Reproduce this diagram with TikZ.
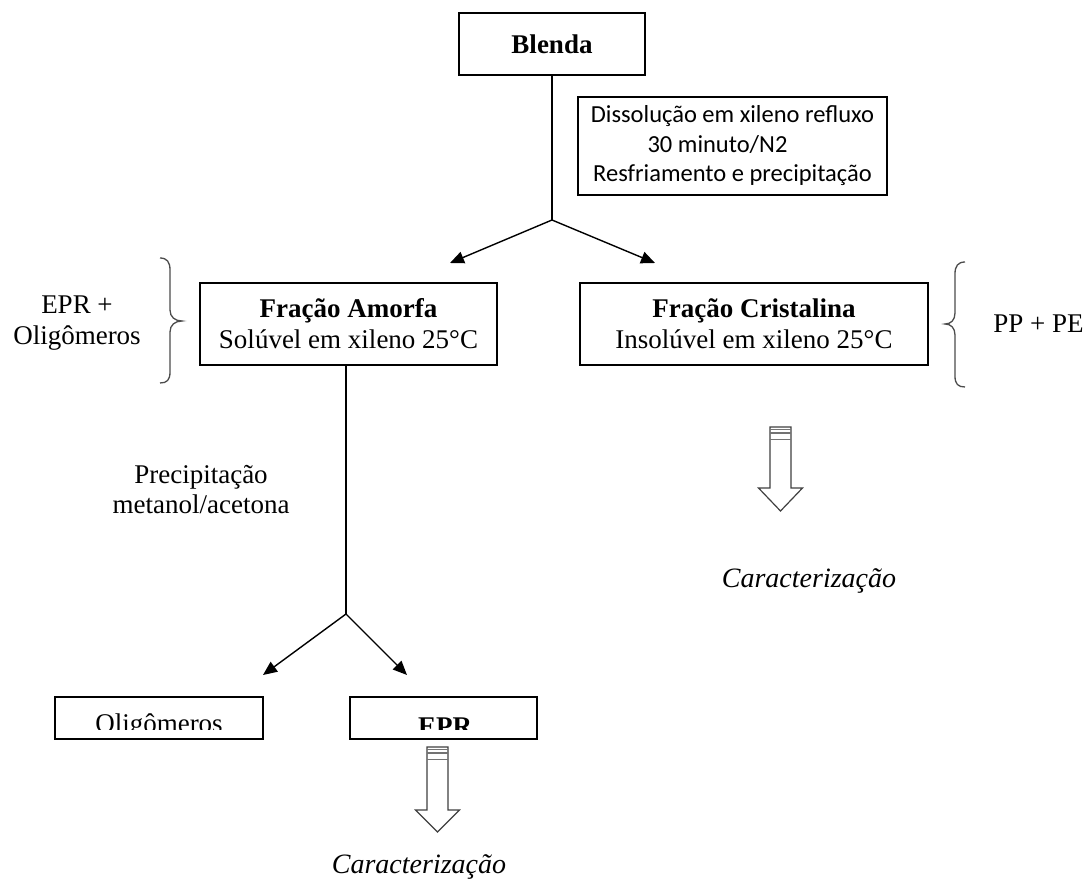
\documentclass[tikz,border=0pt]{standalone}
\usepackage{fontspec}
\setmainfont{Liberation Serif}
\newfontfamily\calib{Carlito}
\usetikzlibrary{arrows.meta}
\newcommand\hollowdown[4]{%
  \draw[harrow] ({#1-10.5},#2) -- ({#1-10.5},#3) -- ({#1-22},#3) -- (#1,#4) -- ({#1+22},#3) -- ({#1+10.5},#3) -- ({#1+10.5},#2) -- cycle;
  \draw[stripe] ({#1-10.5},{#2+2.5}) -- ({#1+10.5},{#2+2.5});
  \draw[stripe] ({#1-10.5},{#2+6}) -- ({#1+10.5},{#2+6});
  \draw[stripe] ({#1-10.5},{#2+12.5}) -- ({#1+10.5},{#2+12.5});
}
\begin{document}
\begin{tikzpicture}[x=1pt,y=-1pt,
  box/.style={draw, line width=1.1pt, inner sep=0pt},
  ser/.style={font=\fontsize{27}{31}\selectfont},
  con/.style={line width=1.4pt},
  arr/.style={con,-{Triangle[length=14pt,width=12pt]}},
  brc/.style={line width=1.3pt, draw=black!70},
  harrow/.style={line width=1.2pt, draw=black!75, line join=miter},
  stripe/.style={draw=black!55, line width=1.1pt}]
\useasboundingbox (0,0) rectangle (1088,880);
\fill[white] (0,0) rectangle (1088,880);

% boxes
\node[box, minimum width=186pt, minimum height=62pt, font=\bfseries\fontsize{27}{31}\selectfont] (blenda) at (552,44) {Blenda};
\node[box, minimum width=309pt, minimum height=98pt, align=center, font=\calib\fontsize{24.5}{29.5}\selectfont] (dissol) at (732.5,146)
  {Dissolução em xileno refluxo\\30 minuto/N2\rule{30pt}{0pt}\\Resfriamento e precipitação};
\node[box, minimum width=297pt, minimum height=82pt, align=center, ser] (amorfa) at (348.5,324)
  {\textbf{Fração Amorfa}\\Solúvel em xileno 25°C};
\node[box, minimum width=348pt, minimum height=82pt, align=center, ser] (crist) at (754,324)
  {\textbf{Fração Cristalina}\\Insolúvel em xileno 25°C};
\node[box, minimum width=208pt, minimum height=42pt] (oligo) at (159,718) {};
\node[box, minimum width=187pt, minimum height=42pt] (epr) at (443.5,718) {};
\begin{scope}
  \clip (40,690) rectangle (560,729.5);
  \node[anchor=base, ser, inner sep=0pt] (oligot) at (159,732) {Oligômeros};
  \node[anchor=base, font=\bfseries\fontsize{27}{31}\selectfont, inner sep=0pt] (eprt) at (445,735) {EPR};
\end{scope}

% side labels
\node[align=center, ser] (eprolig) at (77,323) {EPR +\\Oligômeros};
\node[ser] (ppe) at (1038.5,324) {PP + PE};
\node[align=center, font=\fontsize{27}{30}\selectfont] (precip) at (201,490) {Precipitação\\metanol/acetona};
\node[anchor=base, font=\itshape\fontsize{28}{31}\selectfont, inner sep=0pt] (car1) at (419,873) {Caracterização};
\node[anchor=base, font=\itshape\fontsize{28}{31}\selectfont, inner sep=0pt] (car2) at (809,587) {Caracterização};

% braces
\draw[brc] (160,258) .. controls (167,258) and (170,262) .. (170,270) -- (170,310)
  .. controls (170,317) and (175,321) .. (182,321)
  .. controls (175,321) and (170,325) .. (170,332) -- (170,372)
  .. controls (170,380) and (167,383) .. (160,383);
\draw[brc] (965,262) .. controls (958,262) and (955,266) .. (955,274) -- (955,313)
  .. controls (955,320) and (951,324) .. (945,324)
  .. controls (951,324) and (955,328) .. (955,335) -- (955,376)
  .. controls (955,384) and (958,387) .. (965,387);

% connectors
\coordinate (j1) at (552,220);
\coordinate (t1) at (450,263);
\coordinate (t2) at (655,263);
\draw[con] (blenda.south) -- (j1);
\draw[arr] (j1) -- (t1);
\draw[arr] (j1) -- (t2);

\coordinate (j2) at (346,614);
\coordinate (t3) at (263,675);
\coordinate (t4) at (407,675);
\draw[con] (j2 |- amorfa.south) -- (j2);
\draw[arr] (j2) -- (t3);
\draw[arr] (j2) -- (t4);

% hollow arrows
\hollowdown{437.5}{747}{810}{832}
\hollowdown{780.5}{427}{488}{511}
\end{tikzpicture}
\end{document}
